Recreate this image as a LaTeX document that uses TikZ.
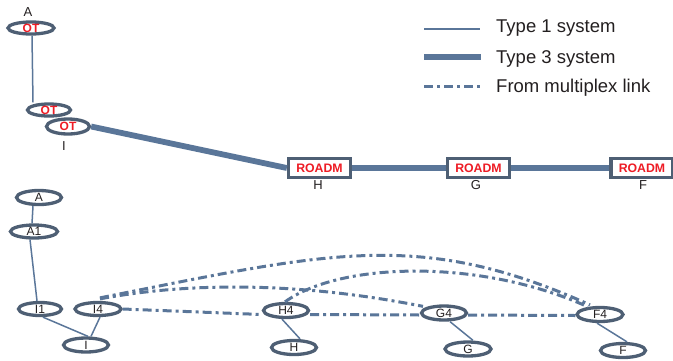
\documentclass[tikz,border=0pt]{standalone}
\usepackage{fontspec}
\setmainfont{Liberation Sans}
\usetikzlibrary{shapes.geometric}
\definecolor{lc}{HTML}{5A7699}
\definecolor{bc}{HTML}{4E5F74}
\definecolor{rc}{HTML}{EE1C25}
\definecolor{tc}{HTML}{231F20}
\tikzset{
  ell/.style={ellipse,draw=bc,line width=3.3pt,fill=white,inner sep=0pt,font=\fontsize{12}{12}\selectfont,text=tc},
  otell/.style={ell,font=\fontsize{12}{12}\selectfont\bfseries,text=rc},
  roadm/.style={rectangle,draw=bc,line width=3.3pt,fill=white,minimum width=62pt,minimum height=19pt,inner sep=0pt,font=\fontsize{12.3}{12}\selectfont\bfseries,text=rc},
  lbl/.style={inner sep=0pt,font=\fontsize{13}{13}\selectfont,text=tc},
  leg/.style={inner sep=0pt,anchor=base west,font=\fontsize{18.5}{18.5}\selectfont,text=tc},
  thin1/.style={draw=lc,line width=1.5pt},
  thick3/.style={draw=lc,line width=5.8pt},
  mux/.style={draw=lc,line width=3pt,dash pattern=on 9pt off 4pt on 3pt off 4pt}
}
\begin{document}
\begin{tikzpicture}[x=1pt,y=-1pt]
\useasboundingbox (0,0) rectangle (673,360);
% legend
\coordinate (l1a) at (424,29); \coordinate (l1b) at (480,29);
\coordinate (l2a) at (424,57); \coordinate (l2b) at (481,57);
\coordinate (l3a) at (424,86); \coordinate (l3b) at (483,86);
\draw[thin1] (l1a) -- (l1b);
\draw[thick3] (l2a) -- (l2b);
\draw[mux] (l3a) -- (l3b);
\node[leg] (t1) at (496,32) {Type 1 system};
\node[leg] (t2) at (496,63) {Type 3 system};
\node[leg] (t3) at (496,92) {From multiplex link};
% top network
\node[otell,minimum width=46pt,minimum height=11pt] (otA) at (31,28) {OT};
\node[lbl] (la) at (28,12) {A};
\node[otell,minimum width=43pt,minimum height=10pt] (ot2) at (49,110) {OT};
\node[otell,minimum width=43pt,minimum height=15pt] (ot3) at (68,126.5) {OT};
\node[lbl] (li) at (64,146) {I};
\node[roadm] (roH) at (319.5,168) {ROADM};
\node[roadm] (roG) at (478.5,168) {ROADM};
\node[roadm] (roF) at (642,168) {ROADM};
\node[lbl] (lh) at (318,185) {H};
\node[lbl] (lg) at (476,185) {G};
\node[lbl] (lf) at (643,185) {F};
\draw[thin1] ([xshift=1pt]otA.south) -- ([xshift=-16pt]ot2.north);
\draw[thick3] (ot3.east) -- (roH.west);
\draw[thick3] (roH.east) -- (roG.west);
\draw[thick3] (roG.east) -- (roF.west);
% bottom network
\node[ell,minimum width=45pt,minimum height=14pt] (bA) at (39,197.5) {A};
\node[ell,minimum width=47pt,minimum height=13pt] (bA1) at (34,231.5) {A1};
\node[ell,minimum width=43pt,minimum height=13pt] (bI1) at (40,309) {I1};
\node[ell,minimum width=46pt,minimum height=13pt] (bI4) at (98,309) {I4};
\node[ell,minimum width=45pt,minimum height=14pt] (bI) at (86,345) {I};
\node[ell,minimum width=45pt,minimum height=14pt] (bH4) at (286,310.5) {H4};
\node[ell,minimum width=45pt,minimum height=14pt] (bH) at (294,347.5) {H};
\node[ell,minimum width=45pt,minimum height=14pt] (bG4) at (444,313) {G4};
\node[ell,minimum width=46pt,minimum height=14pt] (bG) at (468,349) {G};
\node[ell,minimum width=46pt,minimum height=14pt] (bF4) at (600,314.5) {F4};
\node[ell,minimum width=45pt,minimum height=14pt] (bF) at (623,350.5) {F};
\draw[thin1] ([xshift=-6pt]bA.south) -- ([xshift=-2pt]bA1.north);
\draw[thin1] ([xshift=-4pt]bA1.south) -- ([xshift=-3pt]bI1.north);
\draw[thin1] ([xshift=3pt]bI1.south) -- ([xshift=2pt]bI.north);
\draw[thin1] ([xshift=2pt]bI4.south) -- ([xshift=5pt]bI.north);
\draw[thin1] ([xshift=-4pt]bH4.south) -- ([xshift=6pt]bH.north);
\draw[thin1] ([xshift=6pt]bG4.south) -- ([xshift=5pt]bG.north);
\draw[thin1] ([xshift=-3pt]bF4.south) -- ([xshift=4pt]bF.north);
% multiplex links
\draw[mux] (bI4.east) -- ([yshift=-4pt]bH4.west);
\draw[mux] ([yshift=-4pt]bH4.east) -- ([yshift=-2pt]bG4.west);
\draw[mux] ([yshift=-2pt]bG4.east) -- ([yshift=-1pt]bF4.west);
\draw[mux] ([xshift=2pt,yshift=2pt]bI4.north) .. controls (190,282) and (300,282) .. ([xshift=-21pt,yshift=-2pt]bG4.north);
\draw[mux] ([xshift=2pt,yshift=3pt]bI4.north) .. controls (330,252) and (420,228.5) .. ([xshift=-10pt,yshift=1pt]bF4.north);
\draw[mux] ([xshift=-1pt,yshift=0pt]bH4.north) .. controls (340,262) and (480,258) .. ([xshift=-12pt,yshift=-1pt]bF4.north);
\end{tikzpicture}
\end{document}
